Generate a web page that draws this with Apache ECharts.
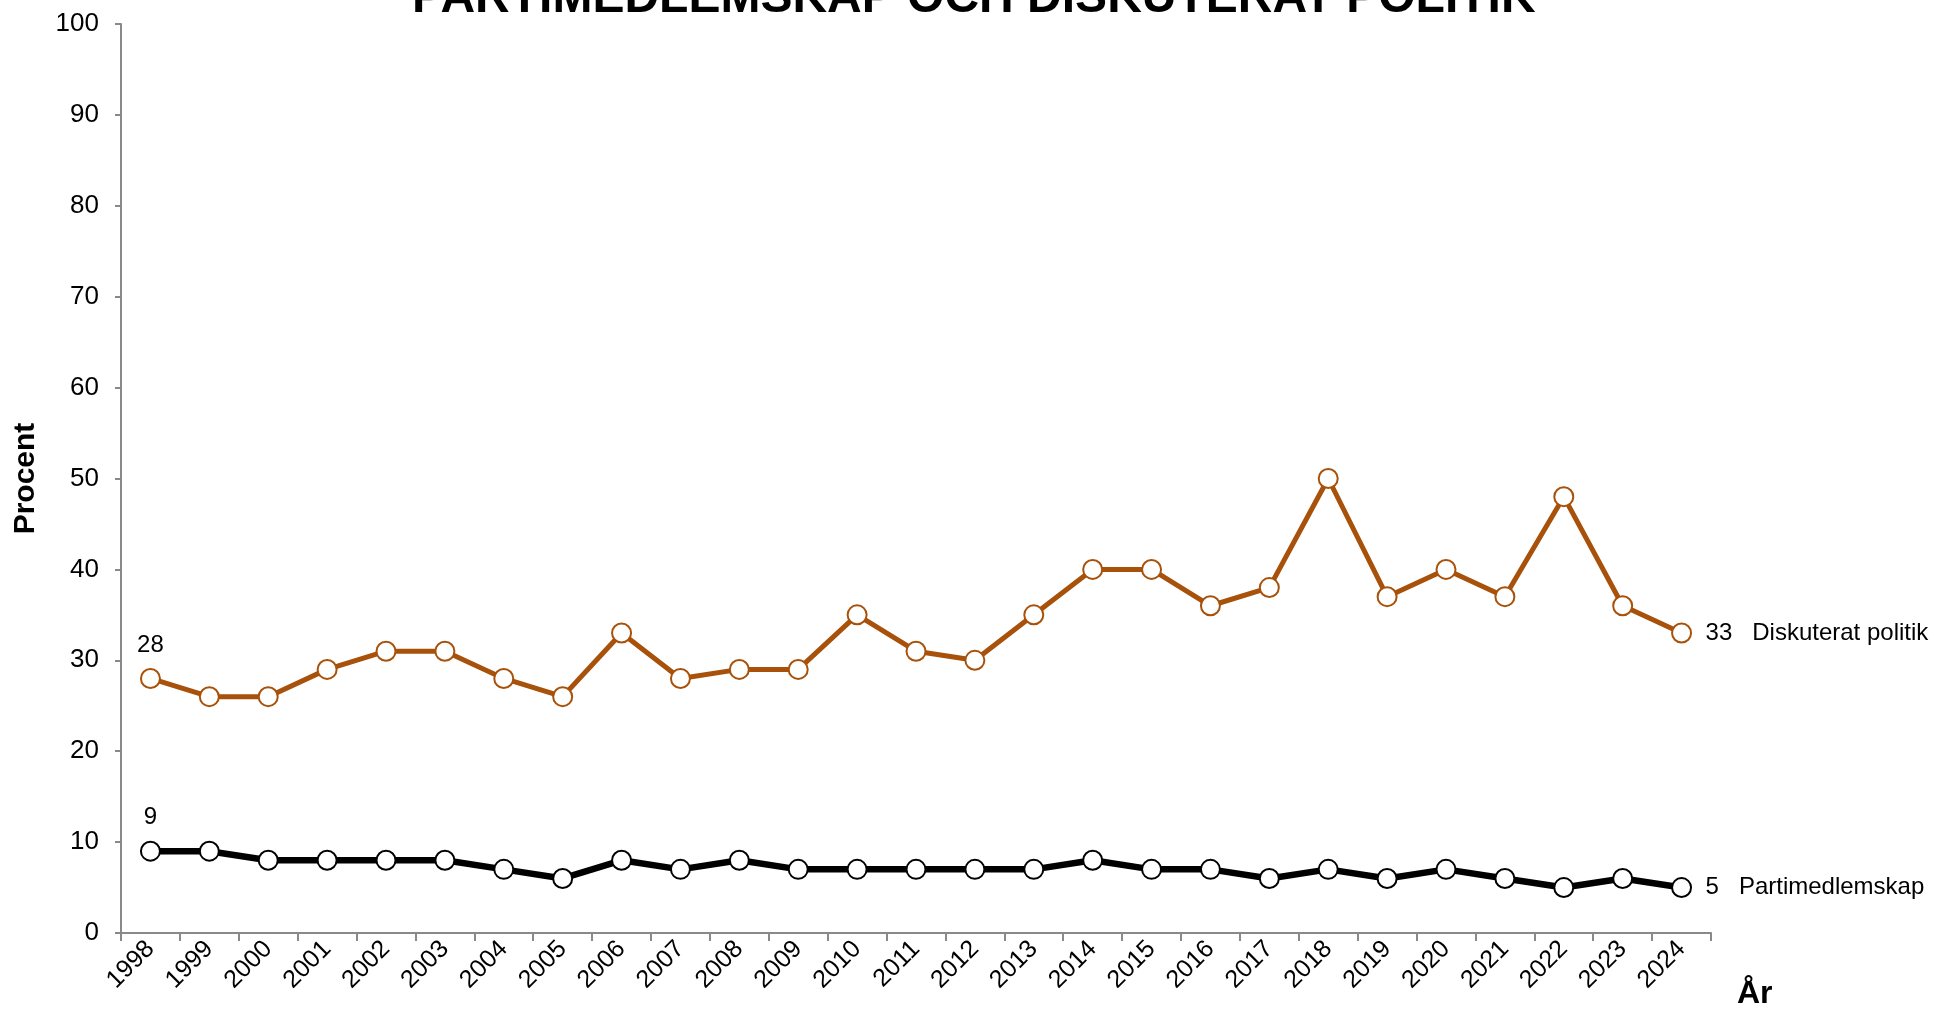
<!DOCTYPE html>
<html>
<head>
<meta charset="utf-8">
<script src="https://cdn.jsdelivr.net/npm/echarts@6/dist/echarts.min.js"></script>
<style>
  html, body { margin: 0; padding: 0; background: #fff; }
  #chart { width: 1934px; height: 1011px; }
</style>
</head>
<body>
<div id="chart"></div>
<script>
var years = ["1998","1999","2000","2001","2002","2003","2004","2005","2006","2007","2008","2009","2010",
  "2011","2012","2013","2014","2015","2016","2017","2018","2019","2020","2021","2022","2023","2024"]
var diskuterat = [28, 26, 26, 29, 31, 31, 28, 26, 33, 28, 29, 29, 35, 31, 30, 35, 40, 40, 36, 38, 50, 37, 40, 37, 48, 36, 33]
var partimedlemskap = [9, 9, 8, 8, 8, 8, 7, 6, 8, 7, 8, 7, 7, 7, 7, 7, 8, 7, 7, 6, 7, 6, 7, 6, 5, 6, 5]

var font = "Liberation Sans, Arial, sans-serif"
var orange = "#A8510A"

// first point gets a label above it
function withFirstLabel(arr) {
  return arr.map(function (v, i) {
    if (i === 0) {
      return { value: v, label: { show: true, position: "top", distance: 11 } }
    }
    return v
  })
}

function lineSeries(name, data, color, width) {
  return {
    name: name,
    type: "line",
    data: withFirstLabel(data),
    symbol: "circle",
    symbolSize: 19,
    lineStyle: { color: color, width: width },
    itemStyle: { color: "#fff", borderColor: color, borderWidth: 2 },
    label: { show: false, color: "#000", fontSize: 24, fontFamily: font },
    endLabel: {
      show: true,
      distance: 24,
      color: "#000",
      fontSize: 24,
      fontFamily: font,
      formatter: function (p) { return p.value + "   " + name }
    },
    emphasis: { disabled: true },
    animation: false
  }
}

var myChart = echarts.init(document.getElementById("chart"))
var option = {
  backgroundColor: "#fff",
  animation: false,
  title: {
    text: "PARTIMEDLEMSKAP OCH DISKUTERAT POLITIK",
    left: 412,
    top: -25,
    padding: 0,
    textStyle: { fontSize: 48, fontWeight: "bold", fontFamily: font, color: "#000" }
  },
  grid: { left: 121, right: 223, top: 24, bottom: 78 },
  xAxis: {
    type: "category",
    data: years,
    boundaryGap: true,
    axisLine: { lineStyle: { color: "#898989", width: 2 } },
    axisTick: { show: true, length: 8, lineStyle: { color: "#898989", width: 2 } },
    axisLabel: { rotate: 45, color: "#000", fontSize: 25, fontFamily: font, margin: 12, interval: 0 }
  },
  yAxis: {
    type: "value",
    min: 0,
    max: 100,
    interval: 10,
    name: "Procent",
    nameLocation: "middle",
    nameGap: 80,
    nameTextStyle: { fontSize: 30, fontWeight: "bold", fontFamily: font, color: "#000" },
    splitLine: { show: false },
    axisLine: { show: true, lineStyle: { color: "#898989", width: 2 } },
    axisTick: { show: true, length: 6, lineStyle: { color: "#898989", width: 2 } },
    axisLabel: { color: "#000", fontSize: 26, fontFamily: font, margin: 22 }
  },
  graphic: [
    {
      type: "text",
      left: 1737,
      top: 978,
      style: { text: "År", fontSize: 32, fontWeight: "bold", fontFamily: font, fill: "#000" }
    }
  ],
  series: [
    lineSeries("Diskuterat politik", diskuterat, orange, 5),
    lineSeries("Partimedlemskap", partimedlemskap, "#000", 6.5)
  ]
}
myChart.setOption(option)
</script>
</body>
</html>
